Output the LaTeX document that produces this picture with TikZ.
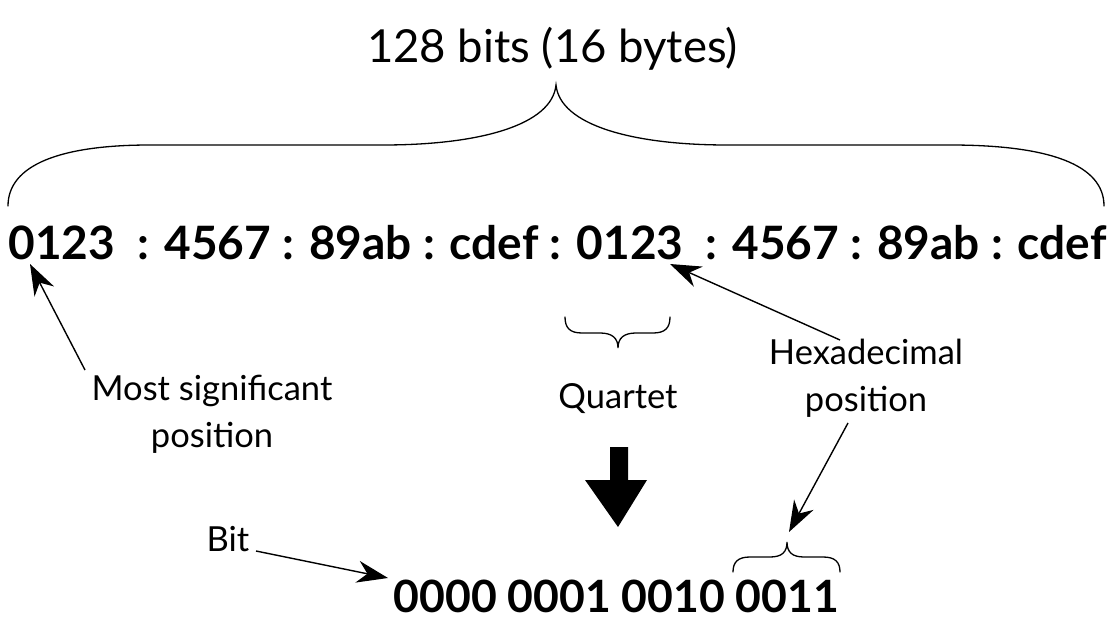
\documentclass[tikz,border=0pt]{standalone}
\usepackage{fontspec}
\setmainfont{Lato}
\usetikzlibrary{arrows.meta}
\begin{document}
\begin{tikzpicture}[x=1pt,y=-1pt,
  title/.style={inner sep=0pt,anchor=base,font=\fontsize{45.5}{50}\selectfont},
  hexrow/.style={inner sep=0pt,anchor=base,font=\fontsize{46}{50}\selectfont\bfseries},
  binrow/.style={inner sep=0pt,anchor=base,font=\fontsize{44.5}{50}\selectfont\bfseries},
  lbl/.style={inner sep=0pt,align=center,font=\fontsize{34.5}{47}\selectfont},
  arr/.style={line width=1.4pt,-{Stealth[length=31pt,width=22pt,inset=10pt]}},
  bracepath/.style={line width=1.3pt,line cap=round},
  blockarrow/.style={fill=black,draw=none}]
\useasboundingbox (0,0) rectangle (1116,644);

% texts
\node[title] (title) at (552.5,63) {128 bits (16 bytes)};
\node[hexrow] (hex) at (557.5,260) {0123\ \ : 4567 : 89ab : cdef : 0123\ \ : 4567 : 89ab : cdef};
\node[lbl] (msp) at (212,414) {Most significant\\position};
\node[lbl,anchor=base] (quartet) at (618,408) {Quartet};
\node[lbl] (hexpos) at (866,378) {Hexadecimal\\position};
\node[lbl,anchor=base] (bit) at (228,551) {Bit};
\node[binrow] (bin) at (616.5,612) {0000 0001 0010 0011};

% anchor points
\coordinate (msptail) at (85,370);
\coordinate (msptip) at (30,264);
\coordinate (hptail1) at (840,340);
\coordinate (hptip1) at (670,264);
\coordinate (hptail2) at (848,423);
\coordinate (hptip2) at (789,532);
\coordinate (bittail) at (256,551);
\coordinate (bittip) at (388,578);

% big brace
\draw[bracepath] (8,206) .. controls (8,165) and (60,145) .. (150,145)
  -- (383,145) .. controls (480,145) and (552,125) .. (556,85)
  .. controls (560,125) and (632,145) .. (727,145)
  -- (950,145) .. controls (1050,145) and (1104,165) .. (1104,206);

% quartet brace (pointing down)
\draw[bracepath] (565,317) .. controls (565,328) and (570,333) .. (582,333)
  -- (600,333) .. controls (612,333) and (618,338) .. (618,348)
  .. controls (618,338) and (624,333) .. (636,333)
  -- (653,333) .. controls (665,333) and (670,328) .. (670,317);

% nibble brace (pointing up)
\draw[bracepath] (733,572) .. controls (733,562) and (738,557) .. (750,557)
  -- (770,557) .. controls (782,557) and (787,552) .. (787,542)
  .. controls (787,552) and (792,557) .. (804,557)
  -- (823,557) .. controls (835,557) and (840,562) .. (840,572);

% block arrow
\fill[blockarrow] (610,447) -- (628,447) -- (628,480) -- (647,480) -- (618,527) -- (585,480) -- (610,480) -- cycle;

% arrows
\draw[arr] (msptail) -- (msptip);
\draw[arr] (hptail1) -- (hptip1);
\draw[arr] (hptail2) -- (hptip2);
\draw[arr] (bittail) -- (bittip);
\end{tikzpicture}
\end{document}
